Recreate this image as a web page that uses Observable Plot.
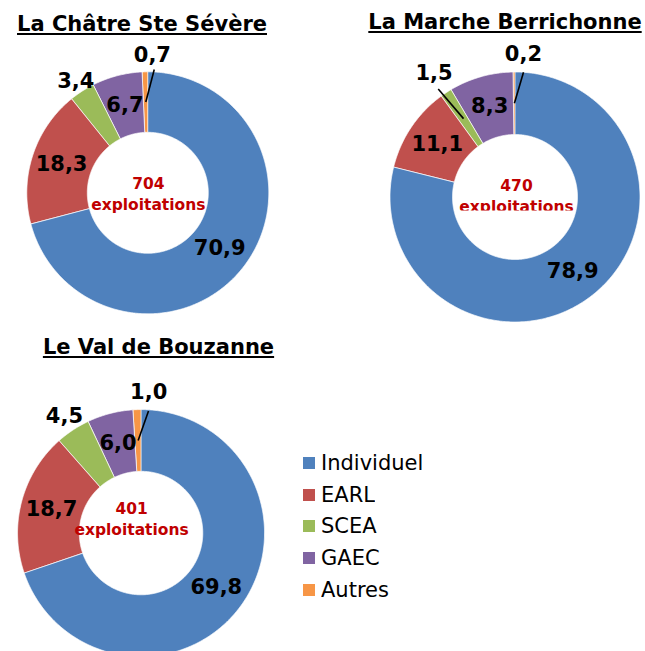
<!DOCTYPE html>
<html>
<head>
<meta charset="utf-8">
<script src="https://cdn.jsdelivr.net/npm/d3@7"></script>
<script src="https://cdn.jsdelivr.net/npm/@observablehq/plot@0.6"></script>
<style>
  html, body { margin: 0; padding: 0; background: #fff; }
  #wrap { position: relative; width: 645px; height: 651px; overflow: hidden; background: #fff; font-family: "DejaVu Sans", Verdana, sans-serif; }
  .title { position: absolute; font-size: 21px; font-weight: bold; line-height: 21px; white-space: nowrap; color: #000;
           text-decoration: underline; text-decoration-thickness: 2px; text-underline-offset: 2px; transform: translateX(-50%); }
  .donut { position: absolute; }
  .donut svg { overflow: visible; max-width: none !important; background: transparent !important; }
  #legend { position: absolute; left: 303px; top: 451px; }
  .lg-swatch { padding-bottom: 7.7px !important; }
  .lg-swatch > svg { margin-right: 6px !important; }
</style>
</head>
<body>
<div id="wrap"></div>
<script>
// ---- data ----
const types = ["Individuel", "EARL", "SCEA", "GAEC", "Autres"];
const colors = ["#4F81BD", "#C0504D", "#9BBB59", "#8064A2", "#F79646"];
const territories = ["La Châtre Ste Sévère", "La Marche Berrichonne", "Le Val de Bouzanne"];
const totals = [704, 470, 401];
const chatreShares = [70.9, 18.3, 3.4, 6.7, 0.7];
const marcheShares = [78.9, 11.1, 1.5, 8.3, 0.2];
const valShares = [69.8, 18.7, 4.5, 6.0, 1.0];
const sharesByTerritory = [chatreShares, marcheShares, valShares];

// ---- layout (positions / styling only) ----
const layout = [
  {cx: 147.5, cy: 192, R: 121, titleX: 142, titleBase: 32, centerDx: 0.5, centerDy: 1.5,
   outside: {SCEA: {r: 1.10}, Autres: {r: 1.14, a: 1.9, leader: {a: 3.0, r: 1.02}}}},
  {cx: 514.5, cy: 196.5, R: 125, titleX: 505, titleBase: 29.5, centerDx: 1.5, centerDy: -0.5, clipBelow: 13.5,
   outside: {SCEA: {r: 1.18, leader: {a: 324.6, r: 1.06}}, Autres: {r: 1.14, a: 3.4, leader: {a: 3.9, r: 1.0}}}},
  {cx: 140.5, cy: 532.5, R: 123.5, titleX: 158.5, titleBase: 355, centerDx: -9.5, centerDy: -14,
   outside: {SCEA: {r: 1.13}, Autres: {r: 1.14, a: 3.1, leader: {a: 3.5, r: 0.99}}}}
];
const INNER = 0.5, MID = 0.75, S = 1.3;
const font = "DejaVu Sans, Verdana, sans-serif";
const rad = (deg) => deg * Math.PI / 180;
const px = (a, r) => r * Math.sin(rad(a));
const py = (a, r) => r * Math.cos(rad(a));
const fmt = (v) => v.toFixed(1).replace(".", ",");

const wrap = document.getElementById("wrap");

territories.forEach((name, k) => {
  const L = layout[k];
  const shares = sharesByTerritory[k];
  const sum = d3.sum(shares);
  const pts = [];
  const labels = [];
  const leaders = [];
  let acc = 0;
  shares.forEach((v, i) => {
    const a0 = acc / sum * 360, a1 = (acc + v) / sum * 360;
    acc += v;
    const n = Math.max(2, Math.ceil((a1 - a0) / 0.5));
    for (let j = 0; j <= n; j++) { const a = a0 + (a1 - a0) * j / n; pts.push({type: types[i], x: px(a, 1), y: py(a, 1)}); }
    for (let j = n; j >= 0; j--) { const a = a0 + (a1 - a0) * j / n; pts.push({type: types[i], x: px(a, INNER), y: py(a, INNER)}); }
    const am = (a0 + a1) / 2;
    const o = L.outside[types[i]];
    if (o) {
      const la = o.a != null ? o.a : am;
      labels.push({x: px(la, o.r), y: py(la, o.r), text: fmt(v)});
      if (o.leader) leaders.push({x1: px(am, MID), y1: py(am, MID), x2: px(o.leader.a, o.leader.r), y2: py(o.leader.a, o.leader.r)});
    } else {
      labels.push({x: px(am, MID), y: py(am, MID), text: fmt(v)});
    }
  });
  const W = 2 * S * L.R;
  const cdx = L.centerDx / L.R;
  const centerTop = [{x: cdx, y: -(L.centerDy - 10.5) / L.R, text: String(totals[k])}];
  const centerBottom = [{x: cdx, y: -(L.centerDy + 10.5) / L.R, text: "exploitations"}];

  const plot = Plot.plot({
    width: W, height: W, margin: 0,
    x: {domain: [-S, S], range: [0, W], axis: null},
    y: {domain: [-S, S], range: [W, 0], axis: null},
    color: {domain: types, range: colors},
    style: {fontFamily: font, background: "transparent", overflow: "visible"},
    marks: [
      Plot.line(pts, {x: "x", y: "y", z: "type", fill: "type", stroke: "white", strokeWidth: 0.7, curve: "linear-closed"}),
      Plot.link(leaders, {x1: "x1", y1: "y1", x2: "x2", y2: "y2", stroke: "black", strokeWidth: 1.6}),
      Plot.text(labels, {x: "x", y: "y", text: "text", fontSize: 21, fontWeight: "bold", fill: "black", lineAnchor: "middle"}),
      Plot.text(centerTop, {x: "x", y: "y", text: "text", fontSize: 15.5, fontWeight: "bold", fill: "#C00000", lineAnchor: "middle"}),
      Plot.text(centerBottom, {x: "x", y: "y", text: "text", fontSize: 15.5, fontWeight: "bold", fill: "#C00000", lineAnchor: "middle"})
    ]
  });
  if (L.clipBelow != null) {
    const yCut = plot.scale("y").apply(-L.clipBelow / L.R);
    const id = "clip" + k;
    const svg = d3.select(plot);
    svg.append("defs").append("clipPath").attr("id", id)
      .append("rect").attr("x", 0).attr("y", 0).attr("width", W).attr("height", yCut);
    svg.selectAll("text").filter(function() { return this.textContent === "exploitations"; })
      .each(function() { this.parentNode.setAttribute("clip-path", `url(#${id})`); });
  }
  const holder = document.createElement("div");
  holder.className = "donut";
  holder.style.left = (L.cx - W / 2) + "px";
  holder.style.top = (L.cy - W / 2) + "px";
  holder.appendChild(plot);
  wrap.appendChild(holder);

  const t = document.createElement("div");
  t.className = "title";
  t.textContent = name;
  t.style.left = L.titleX + "px";
  t.style.top = (L.titleBase - 17.8) + "px";
  wrap.appendChild(t);
});

const legend = Plot.legend({
  color: {domain: types, range: colors},
  legend: "swatches", columns: 1, swatchSize: 12, className: "lg",
  style: {fontSize: "21px", fontFamily: font, color: "#000"}
});
const lg = document.createElement("div");
lg.id = "legend";
lg.appendChild(legend);
wrap.appendChild(lg);
</script>
</body>
</html>
